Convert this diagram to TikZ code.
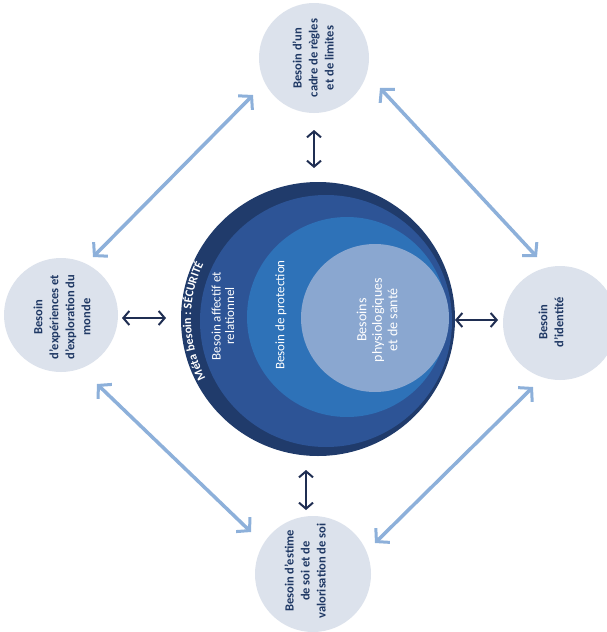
\documentclass[tikz,border=0pt]{standalone}
\usepackage{fontspec}
\setmainfont{Carlito}
\usetikzlibrary{arrows.meta,decorations.text}
\definecolor{ringA}{HTML}{203B6B}
\definecolor{ringB}{HTML}{2D5496}
\definecolor{ringC}{HTML}{2E72B8}
\definecolor{ringD}{HTML}{8AA7D0}
\definecolor{outerfill}{HTML}{DCE2EC}
\definecolor{outertext}{HTML}{1F3864}
\definecolor{lightarrow}{HTML}{8DB0DA}
\definecolor{darkarrow}{HTML}{1F2E52}
\newcommand\metafont{\fontsize{12}{14}\selectfont\bfseries}
\tikzset{
  needcircle/.style={circle, fill=outerfill, inner sep=0pt},
  needtext/.style={rotate=90, align=center, text=outertext, inner sep=0pt,
    font=\fontsize{12.5}{16}\selectfont\bfseries},
  innertext/.style={rotate=90, align=center, text=white, inner sep=0pt,
    font=\fontsize{13}{14}\selectfont},
  ring/.style={circle, inner sep=0pt},
  lightlink/.style={draw=lightarrow, line width=3.5pt,
    {Straight Barb[length=9pt, width=20pt, line width=3pt]}-{Straight Barb[length=9pt, width=20pt, line width=3pt]}},
  darklink/.style={draw=darkarrow, line width=2.2pt,
    {Straight Barb[length=6pt, width=14pt, line width=2pt]}-{Straight Barb[length=6pt, width=14pt, line width=2pt]}}
}
\begin{document}
\begin{tikzpicture}[x=1pt, y=-1pt]
\useasboundingbox[fill=white] (0,0) rectangle (606,632);
% outer need circles
\node[needcircle, minimum size=110pt] (top) at (314,58) {};
\node[needcircle, minimum size=114pt] (left) at (61,315) {};
\node[needcircle, minimum size=114pt] (right) at (560,323) {};
\node[needcircle, minimum size=116pt] (bottom) at (313,574) {};
\node[needtext] (toptext) at (313,58) {Besoin d'un\\cadre de règles\\et de limites};
\node[needtext] (lefttext) at (62,317) {Besoin\\d'expériences et\\d'exploration du\\monde};
\node[needtext] (righttext) at (551,322) {Besoin\\d'identité};
\node[needtext] (bottomtext) at (305,571) {Besoin d'estime\\de soi et de\\valorisation de soi};
% central nested circles
\node[ring, fill=ringA, minimum size=274pt] (secu) at (318,319) {};
\node[ring, fill=ringB, minimum size=252pt] (affect) at (326,321) {};
\node[ring, fill=ringC, minimum size=200pt] (protect) at (347,317) {};
\node[ring, fill=ringD, minimum size=148pt] (physio) at (375,318) {};
\path[decorate, decoration={text along path, text color=white, text align=center,
  text={|\metafont|Méta besoin : SÉCURITÉ}}]
  (secu.center) ++(140:127) arc[start angle=140, end angle=218, radius=127];
\node[innertext, font=\fontsize{13}{13.5}\selectfont] (affecttext) at (223,316) {Besoin affectif et\\relationnel};
\node[innertext] (protecttext) at (281,315) {Besoin de protection};
\node[innertext, font=\fontsize{14}{15.5}\selectfont] (physiotext) at (377,320) {Besoins\\physiologiques\\et de santé};
% light diagonal links
\coordinate (l1a) at (93,257);  \coordinate (l1b) at (253,95);
\coordinate (l2a) at (380,88);  \coordinate (l2b) at (537,257);
\coordinate (l3a) at (97,384);  \coordinate (l3b) at (251,532);
\coordinate (l4a) at (375,543); \coordinate (l4b) at (533,387);
\draw[lightlink] (l1a) -- (l1b);
\draw[lightlink] (l2a) -- (l2b);
\draw[lightlink] (l3a) -- (l3b);
\draw[lightlink] (l4a) -- (l4b);
% dark links
\coordinate (d1a) at (314,130); \coordinate (d1b) at (314,168);
\coordinate (d2a) at (122,318); \coordinate (d2b) at (166,318);
\coordinate (d3a) at (455,320); \coordinate (d3b) at (498,320);
\coordinate (d4a) at (306,470); \coordinate (d4b) at (306,510);
\draw[darklink] (d1a) -- (d1b);
\draw[darklink] (d2a) -- (d2b);
\draw[darklink] (d3a) -- (d3b);
\draw[darklink] (d4a) -- (d4b);
\end{tikzpicture}
\end{document}
